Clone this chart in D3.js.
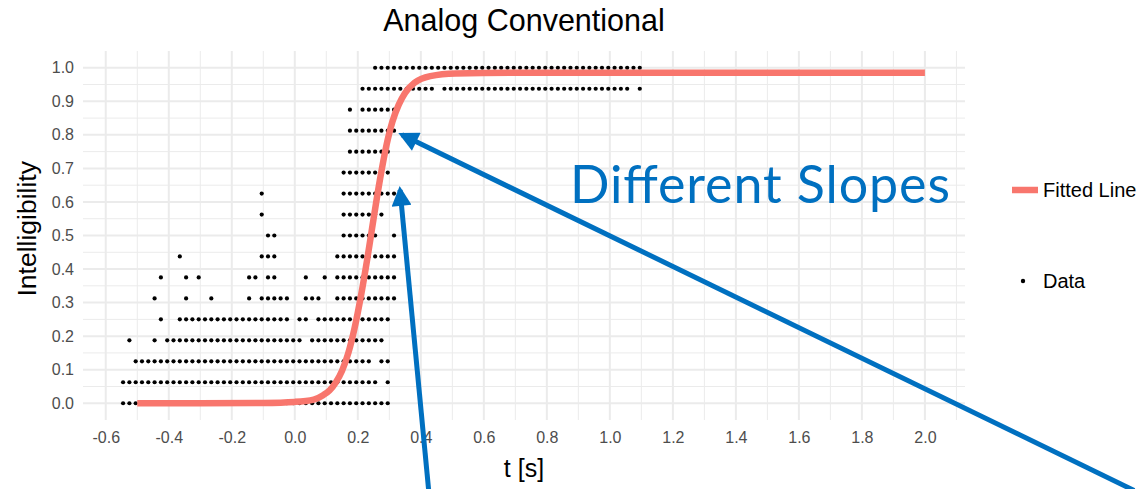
<!DOCTYPE html>
<html>
<head>
<meta charset="utf-8">
<script src="https://cdn.jsdelivr.net/npm/d3@7/dist/d3.min.js"></script>
<style>
  body { margin: 0; background: #fff; }
  text { font-family: "Liberation Sans", Arial, sans-serif; }
</style>
</head>
<body>
<div id="chart-area"></div>
<script>
// time grid of the measurements (s)
var tGrid = [-0.545, -0.525, -0.505, -0.485, -0.465, -0.445, -0.425, -0.405, -0.385, -0.365,
    -0.345, -0.325, -0.305, -0.285, -0.265, -0.245, -0.225, -0.205, -0.185, -0.165,
    -0.145, -0.125, -0.105, -0.085, -0.065, -0.045, -0.025, -0.005, 0.015, 0.035,
    0.055, 0.075, 0.095, 0.115, 0.135, 0.155, 0.175, 0.195, 0.215, 0.235,
    0.255, 0.275, 0.295, 0.315, 0.335, 0.355, 0.375, 0.395, 0.415, 0.435,
    0.455, 0.475, 0.495, 0.515, 0.535, 0.555, 0.575, 0.595, 0.615, 0.635,
    0.655, 0.675, 0.695, 0.715, 0.735, 0.755, 0.775, 0.795, 0.815, 0.835,
    0.855, 0.875, 0.895, 0.915, 0.935, 0.955, 0.975, 0.995, 1.015, 1.035,
    1.055, 1.075, 1.095];

// intelligibility levels (k/16), bottom to top
var yLevels = [0, 0.0625, 0.125, 0.1875, 0.25, 0.3125, 0.375, 0.4375, 0.5,
    0.5625, 0.625, 0.6875, 0.75, 0.8125, 0.875, 0.9375, 1];

// one string per level, '#' = a data point at that tGrid position
var rows = [
    "########## ########## ########## ########## ###....... .......... .......... .......... ...",
    "########## ########## ########## ########## #.#....... .......... .......... .......... ...",
    "..######## ########## ########## ########## .##....... .......... .......... .......... ...",
    ".#...#.### ########## #########. ########## ##........ .......... .......... .......... ...",
    "......#..# ########## #######.## .######### ###....... .......... .......... .......... ...",
    ".....#.... #...#..... #.#####..# ##..###### ####...... .......... .......... .......... ...",
    "......#... #.#....... ##.##....# ..#.###### ####...... .......... .......... .......... ...",
    ".........# .......... ..###..... ....###### ####...... .......... .......... .......... ...",
    ".......... .......... ...##..... .....##### #..#...... .......... .......... .......... ...",
    ".......... .......... ..#....... .....##### ##........ .......... .......... .......... ...",
    ".......... .......... ..#....... .....##### ####...... .......... .......... .......... ...",
    ".......... .......... .......... .....##### ###....... .......... .......... .......... ...",
    ".......... .......... .......... ......#### ###....... .......... .......... .......... ...",
    ".......... .......... .......... ......#### ####...... .......... .......... .......... ...",
    ".......... .......... .......... ......#.## ####...... .......... .......... .......... ...",
    ".......... .......... .......... ........## ########## .######### ########## ########## #.#",
    ".......... .......... .......... .......... ########## ########## ########## ########## ###"
];

// fitted line
var fitT = [-0.5, -0.3, -0.1, 0.0, 0.06, 0.09, 0.11, 0.13, 0.15, 0.17, 0.19, 0.21, 0.23,
    0.25, 0.27, 0.29, 0.31, 0.33, 0.35, 0.38, 0.43, 0.51, 0.7, 2.0];
var fitY = [0, 0, 0.001, 0.004, 0.011, 0.024, 0.038, 0.062, 0.097, 0.15, 0.225, 0.32, 0.43,
    0.55, 0.665, 0.765, 0.84, 0.89, 0.925, 0.955, 0.975, 0.983, 0.985, 0.985];

var xTicks = [-0.6, -0.4, -0.2, 0.0, 0.2, 0.4, 0.6, 0.8, 1.0, 1.2, 1.4, 1.6, 1.8, 2.0];
var yTicks = [0, 0.1, 0.2, 0.3, 0.4, 0.5, 0.6, 0.7, 0.8, 0.9, 1.0];

// annotation arrows in data units: [tail t, tail y, tip t, tip y]
var arrows = [
    [2.664, -0.26, 0.34, 0.80],
    [0.425, -0.26, 0.334, 0.636]
];

var width = 1140, height = 489;
var panel = { left: 83, right: 965, top: 51, bottom: 420 };

var svg = d3.select("#chart-area")
    .append("svg")
    .attr("width", width)
    .attr("height", height)
    .style("display", "block");

svg.append("rect").attr("width", width).attr("height", height).attr("fill", "#fff");

// ggplot style expansion (5%) of the data range
var xMin = d3.min(tGrid), xMax = d3.max(fitT);
var xPad = (xMax - xMin) * 0.05;
var x = d3.scaleLinear()
    .domain([xMin - xPad, xMax + xPad])
    .range([panel.left, panel.right]);

var y = d3.scaleLinear()
    .domain([-0.05, 1.05])
    .range([panel.bottom, panel.top]);

var g = svg.append("g");

// minor grid
var xMinor = d3.range(-5, 22, 2).map(function (d) { return d / 10; });
var yMinor = d3.range(1, 20, 2).map(function (d) { return d / 20; });

g.selectAll(".xminor").data(xMinor).enter().append("line")
    .attr("x1", function (d) { return x(d); }).attr("x2", function (d) { return x(d); })
    .attr("y1", panel.top).attr("y2", panel.bottom)
    .attr("stroke", "#EBEBEB").attr("stroke-width", 1);
g.selectAll(".yminor").data(yMinor).enter().append("line")
    .attr("x1", panel.left).attr("x2", panel.right)
    .attr("y1", function (d) { return y(d); }).attr("y2", function (d) { return y(d); })
    .attr("stroke", "#EBEBEB").attr("stroke-width", 1);

// major grid
g.selectAll(".xmajor").data(xTicks).enter().append("line")
    .attr("x1", function (d) { return x(d); }).attr("x2", function (d) { return x(d); })
    .attr("y1", panel.top).attr("y2", panel.bottom)
    .attr("stroke", "#EBEBEB").attr("stroke-width", 2);
g.selectAll(".ymajor").data(yTicks).enter().append("line")
    .attr("x1", panel.left).attr("x2", panel.right)
    .attr("y1", function (d) { return y(d); }).attr("y2", function (d) { return y(d); })
    .attr("stroke", "#EBEBEB").attr("stroke-width", 2);

// axes (text only, no lines); plain hyphen for negatives like ggplot
var fmt = function (d) { return d.toFixed(1); };
var xAxis = svg.append("g")
    .attr("transform", "translate(0," + (panel.bottom + 6) + ")")
    .call(d3.axisBottom(x).tickValues(xTicks).tickSize(0).tickFormat(fmt));
var yAxis = svg.append("g")
    .attr("transform", "translate(" + (panel.left - 4) + ",0)")
    .call(d3.axisLeft(y).tickValues(yTicks).tickSize(0).tickFormat(fmt));
svg.selectAll(".domain").remove();
svg.selectAll(".tick text")
    .attr("fill", "#4D4D4D")
    .style("font-size", "16px")
    .style("font-family", "'Liberation Sans', Arial, sans-serif");
xAxis.selectAll(".tick text").attr("dy", "0.85em");
yAxis.selectAll(".tick text").attr("dx", "-2px");

// data points
var points = [];
rows.forEach(function (r, k) {
    r.replace(/ /g, "").split("").forEach(function (c, j) {
        if (c === "#") points.push({ t: tGrid[j], v: yLevels[k] });
    });
});

g.selectAll(".dot").data(points).enter().append("circle")
    .attr("cx", function (d) { return x(d.t); })
    .attr("cy", function (d) { return y(d.v); })
    .attr("r", 2.1)
    .attr("fill", "#000");

// fitted line
var fit = fitT.map(function (t, i) { return [t, fitY[i]]; });
g.append("path")
    .datum(fit)
    .attr("fill", "none")
    .attr("stroke", "#F8766D")
    .attr("stroke-width", 6.5)
    .attr("d", d3.line()
        .x(function (d) { return x(d[0]); })
        .y(function (d) { return y(d[1]); })
        .curve(d3.curveMonotoneX));

// title and axis titles
svg.append("text")
    .attr("x", (panel.left + panel.right) / 2)
    .attr("y", 31)
    .attr("text-anchor", "middle")
    .style("font-size", "30.5px")
    .text("Analog Conventional");

svg.append("text")
    .attr("x", (panel.left + panel.right) / 2)
    .attr("y", 477)
    .attr("text-anchor", "middle")
    .style("font-size", "25px")
    .text("t [s]");

svg.append("text")
    .attr("transform", "translate(36," + y(0.52) + ") rotate(-90)")
    .attr("text-anchor", "middle")
    .style("font-size", "26.5px")
    .text("Intelligibility");

// legend
var leg = svg.append("g");
leg.append("line")
    .attr("x1", 1012).attr("x2", 1038).attr("y1", 190).attr("y2", 190)
    .attr("stroke", "#F8766D").attr("stroke-width", 6.5);
leg.append("text").attr("x", 1043).attr("y", 197).style("font-size", "20px").text("Fitted Line");
leg.append("circle").attr("cx", 1023).attr("cy", 281).attr("r", 2.2).attr("fill", "#000");
leg.append("text").attr("x", 1043).attr("y", 288).style("font-size", "20px").text("Data");

// annotation
svg.append("text")
    .attr("x", 570)
    .attr("y", 203)
    .attr("fill", "#0070C0")
    .attr("textLength", 380)
    .style("font-family", "Lato, 'Open Sans', sans-serif")
    .style("font-size", "52px")
    .text("Different Slopes");

svg.append("defs").append("marker")
    .attr("id", "head")
    .attr("viewBox", "0 0 10 10")
    .attr("refX", 8).attr("refY", 5)
    .attr("markerWidth", 4.6).attr("markerHeight", 4)
    .attr("orient", "auto")
    .append("path")
    .attr("d", "M0,0 L10,5 L0,10 z")
    .attr("fill", "#0070C0");

svg.selectAll(".arrow").data(arrows).enter().append("line")
    .attr("x1", function (d) { return x(d[0]); })
    .attr("y1", function (d) { return y(d[1]); })
    .attr("x2", function (d) { return x(d[2]); })
    .attr("y2", function (d) { return y(d[3]); })
    .attr("stroke", "#0070C0")
    .attr("stroke-width", 5)
    .attr("marker-end", "url(#head)");
</script>
</body>
</html>
